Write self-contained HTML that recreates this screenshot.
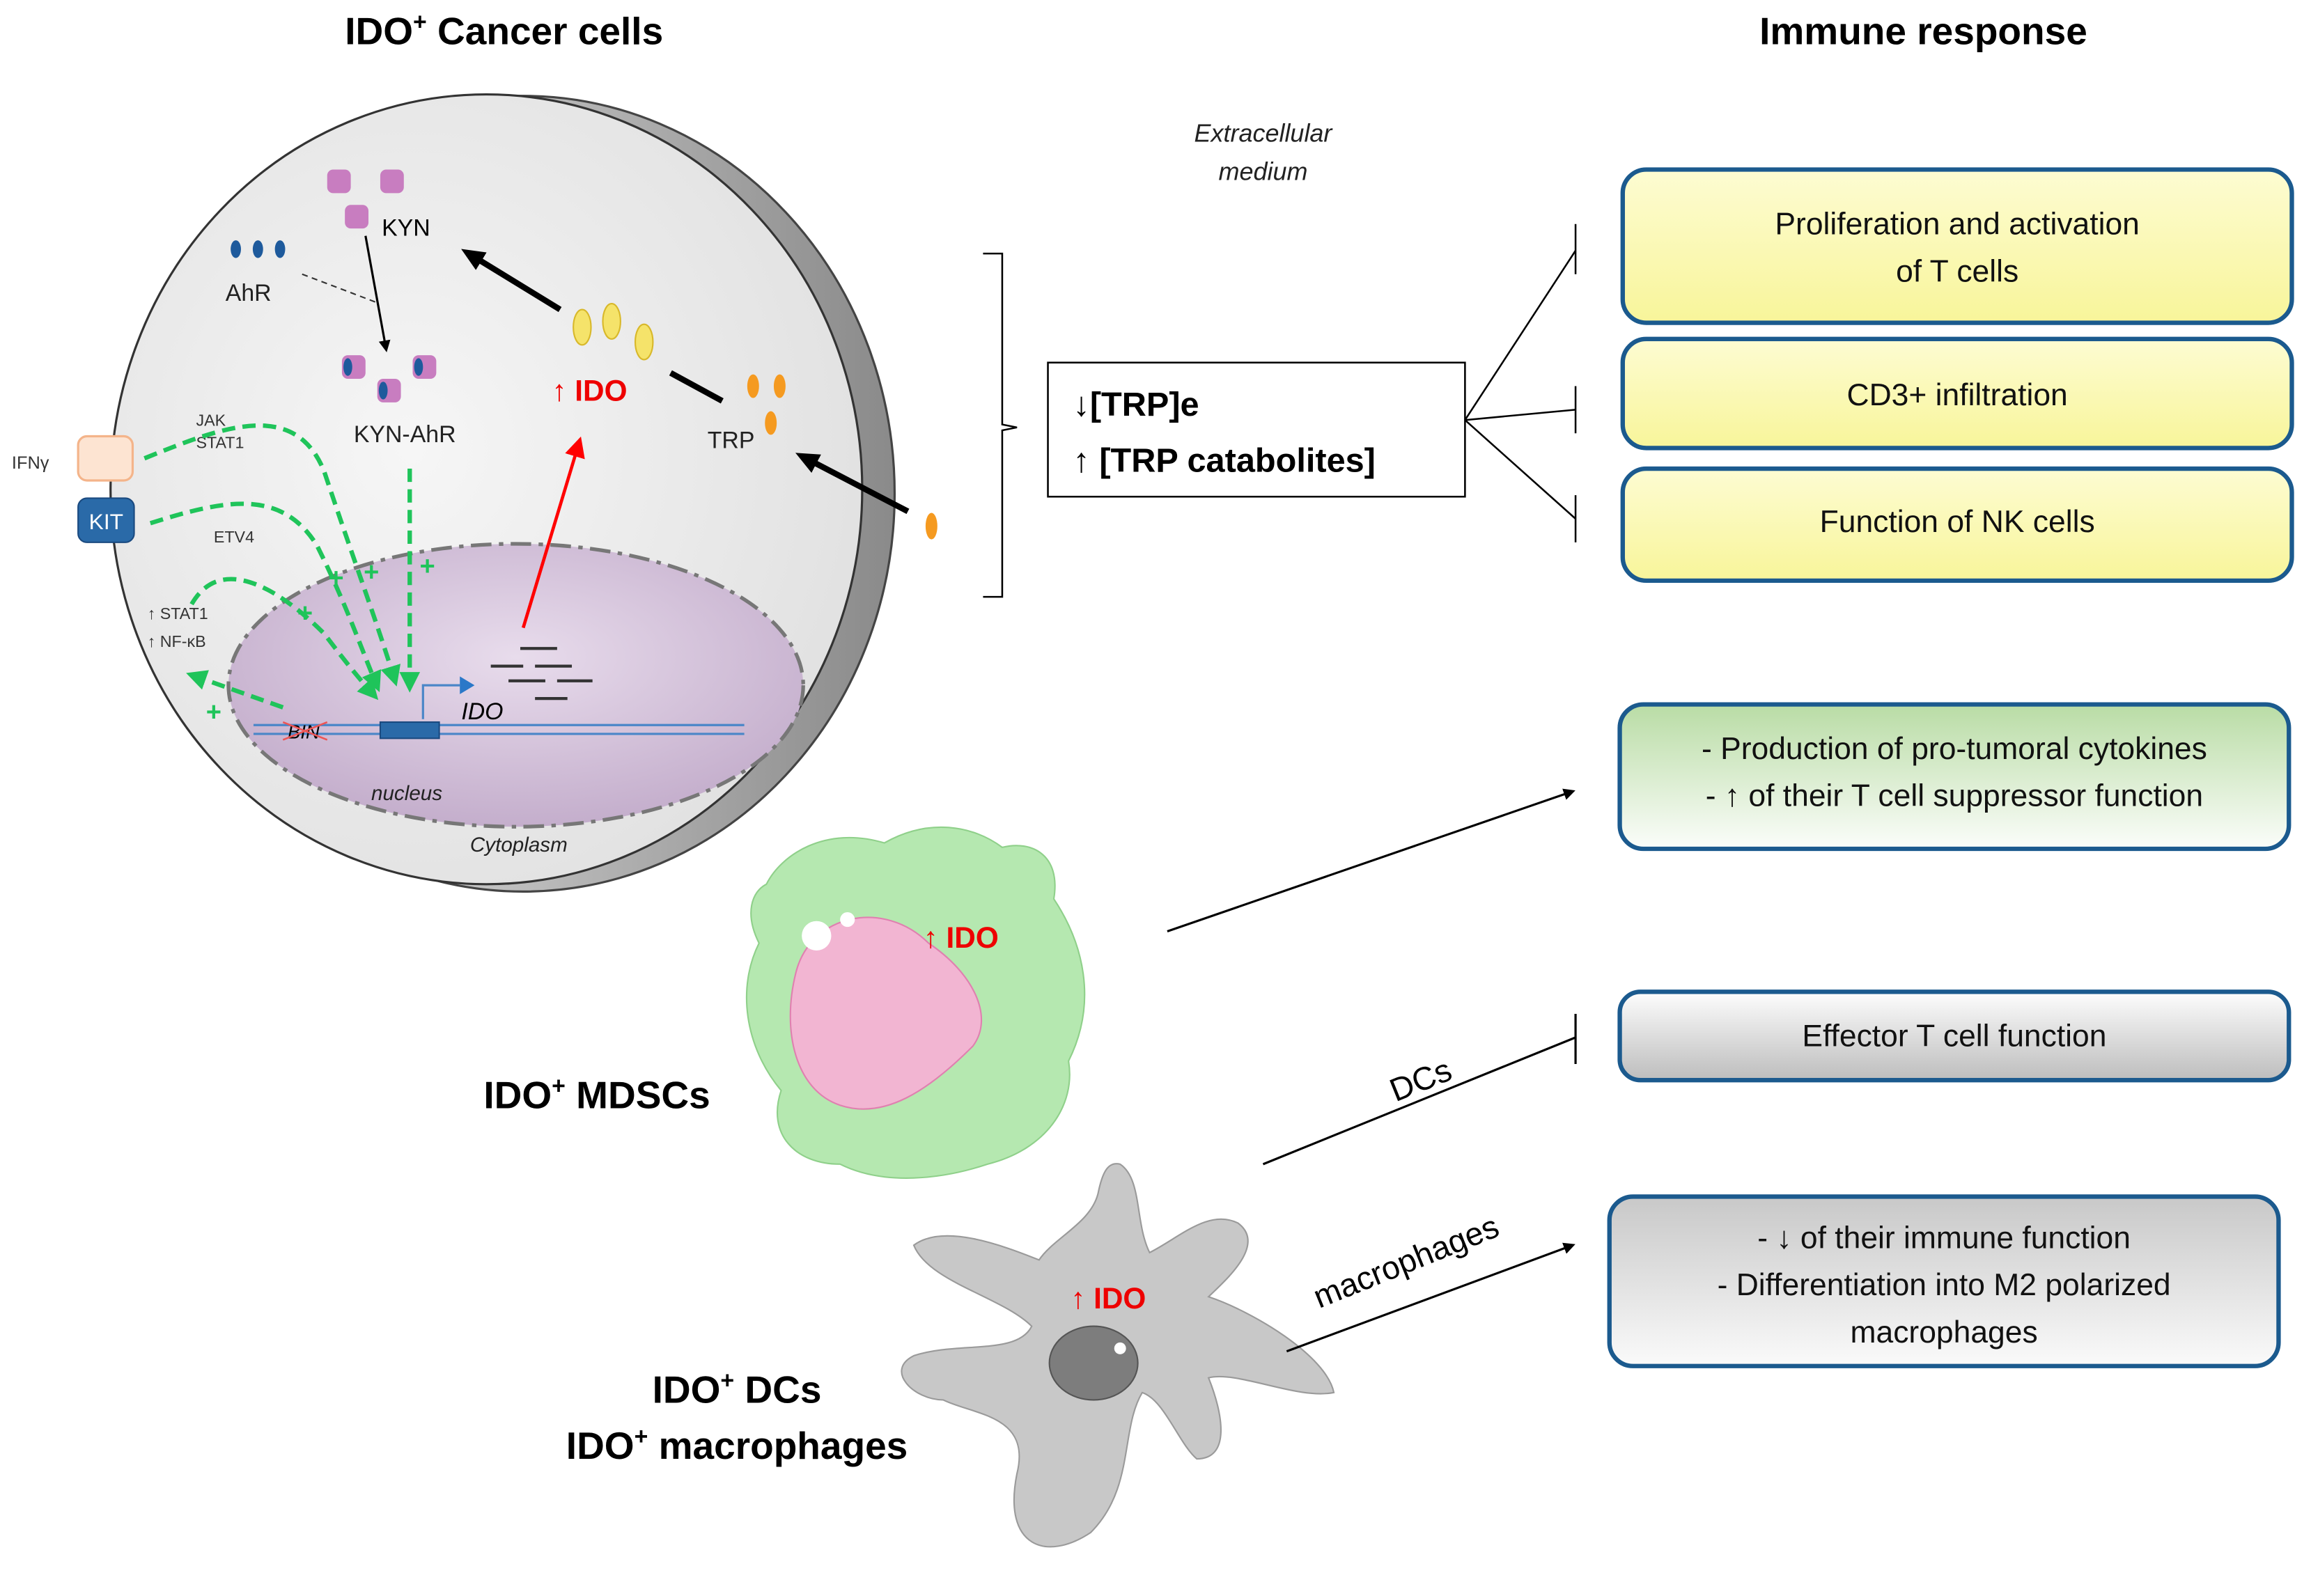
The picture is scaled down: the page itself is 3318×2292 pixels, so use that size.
<!DOCTYPE html>
<html><head><meta charset="utf-8"><style>
html,body{margin:0;padding:0;background:#fff}
svg{display:block}
text{font-family:"Liberation Sans",sans-serif}
</style></head><body>
<svg width="3318" height="2292" viewBox="0 0 1568 1083" xmlns="http://www.w3.org/2000/svg">
<defs>
<marker id="ab" markerWidth="8" markerHeight="8" refX="6" refY="4" orient="auto" markerUnits="userSpaceOnUse"><path d="M0,0L8,4L0,8z" fill="#000"/></marker>
<marker id="abB" markerWidth="16" markerHeight="14" refX="10" refY="7" orient="auto" markerUnits="userSpaceOnUse"><path d="M0,0L16,7L0,14z" fill="#000"/></marker>
<marker id="ag" markerWidth="14" markerHeight="14" refX="10" refY="7" orient="auto" markerUnits="userSpaceOnUse"><path d="M0,0L14,7L0,14z" fill="#1fc45a"/></marker>
<marker id="ar" markerWidth="14" markerHeight="14" refX="10" refY="7" orient="auto" markerUnits="userSpaceOnUse"><path d="M0,0L14,7L0,14z" fill="#f00"/></marker>
<radialGradient id="cell" cx="0.4" cy="0.45" r="0.6"><stop offset="0" stop-color="#f6f6f6"/><stop offset="1" stop-color="#e2e2e2"/></radialGradient>
<linearGradient id="rim" x1="0" x2="1"><stop offset="0" stop-color="#eee"/><stop offset="1" stop-color="#8a8a8a"/></linearGradient>
<radialGradient id="nuc" cx="0.5" cy="0.4" r="0.6"><stop offset="0" stop-color="#e8dcec"/><stop offset="1" stop-color="#c4aecc"/></radialGradient>
<linearGradient id="yel" x1="0" y1="0" x2="0" y2="1"><stop offset="0" stop-color="#fdfcd2"/><stop offset="1" stop-color="#f8f59a"/></linearGradient>
<linearGradient id="grn" x1="0" y1="0" x2="0" y2="1"><stop offset="0" stop-color="#b9dca5"/><stop offset="1" stop-color="#fbfdfa"/></linearGradient>
<linearGradient id="gry" x1="0" y1="0" x2="0" y2="1"><stop offset="0" stop-color="#fdfdfd"/><stop offset="1" stop-color="#bdbdbd"/></linearGradient>
<linearGradient id="gry2" x1="0" y1="0" x2="0" y2="1"><stop offset="0" stop-color="#c8c8c8"/><stop offset="1" stop-color="#fafafa"/></linearGradient>
</defs>

<text x="342" y="30" font-size="26" font-weight="bold" text-anchor="middle">IDO<tspan font-size="16" dy="-10">+</tspan><tspan dy="10"> Cancer cells</tspan></text>
<text x="1305" y="30" font-size="26" font-weight="bold" text-anchor="middle">Immune response</text>
<text x="857" y="96" font-size="17" font-style="italic" text-anchor="middle" fill="#222">Extracellular</text>
<text x="857" y="122" font-size="17" font-style="italic" text-anchor="middle" fill="#222">medium</text>

<!-- cell -->
<ellipse cx="355" cy="335" rx="252" ry="270" fill="url(#rim)" stroke="#444" stroke-width="1.5"/>
<ellipse cx="330" cy="332" rx="255" ry="268" fill="url(#cell)" stroke="#333" stroke-width="1.5"/>
<ellipse cx="350" cy="465" rx="195" ry="96" fill="url(#nuc)" stroke="#777" stroke-width="2.5" stroke-dasharray="14,5,3,5"/>
<text x="276" y="543" font-size="14" font-style="italic" text-anchor="middle" fill="#222">nucleus</text>
<text x="352" y="578" font-size="14" font-style="italic" text-anchor="middle" fill="#222">Cytoplasm</text>
<!-- DNA -->
<line x1="172" y1="492" x2="505" y2="492" stroke="#4a86c8" stroke-width="1.5"/>
<line x1="172" y1="498" x2="505" y2="498" stroke="#4a86c8" stroke-width="1.5"/>
<rect x="258" y="490" width="40" height="11" fill="#2a6aa8" stroke="#1a4a80"/>
<text x="206" y="501" font-size="13" font-style="italic" text-anchor="middle">BIN</text>
<path d="M192,490L222,502M192,502L222,490" stroke="#e55" stroke-width="1.2"/>
<path d="M287,488V465H312" fill="none" stroke="#4a86c8" stroke-width="1.5"/><path d="M312,459L322,465L312,471z" fill="#2a78c8"/>
<text x="313" y="488" font-size="16" font-style="italic">IDO</text>
<g stroke="#333" stroke-width="2"><line x1="353" y1="440" x2="378" y2="440"/><line x1="333" y1="452" x2="355" y2="452"/><line x1="363" y1="452" x2="388" y2="452"/><line x1="345" y1="462" x2="370" y2="462"/><line x1="378" y1="462" x2="402" y2="462"/><line x1="363" y1="474" x2="385" y2="474"/></g>
<line x1="355" y1="426" x2="393" y2="300" stroke="#f00" stroke-width="2.2" marker-end="url(#ar)"/>
<text x="400" y="272" font-size="20" font-weight="bold" fill="#e00" text-anchor="middle">↑ IDO</text>
<!-- receptors -->
<text x="8" y="318" font-size="12" fill="#333">IFNγ</text>
<rect x="53" y="296" width="37" height="30" rx="6" fill="#fde4d2" stroke="#f4b48a" stroke-width="1.5"/>
<rect x="53" y="338" width="38" height="30" rx="6" fill="#2a6aa8" stroke="#1a4a80"/>
<text x="72" y="359" font-size="15" fill="#fff" text-anchor="middle">KIT</text>
<text x="133" y="289" font-size="11" fill="#333">JAK</text>
<text x="133" y="304" font-size="11" fill="#333">STAT1</text>
<text x="145" y="368" font-size="11" fill="#333">ETV4</text>
<text x="100" y="420" font-size="11" fill="#333">↑ STAT1</text>
<text x="100" y="439" font-size="11" fill="#333">↑ NF-κB</text>
<g fill="none" stroke="#1fc45a" stroke-width="3" stroke-dasharray="9,5">
<path d="M98,311C150,290 200,270 220,320C240,380 255,420 268,462" marker-end="url(#ag)"/>
<path d="M102,355C150,340 190,330 215,370C235,410 245,440 256,466" marker-end="url(#ag)"/>
<path d="M130,410C150,375 190,400 220,430C235,450 245,462 254,472" marker-end="url(#ag)"/>
<path d="M278,318V466" marker-end="url(#ag)"/>
<path d="M192,480L130,458" marker-end="url(#ag)"/>
</g>
<g font-size="18" font-weight="bold" fill="#1fc45a" text-anchor="middle"><text x="228" y="398">+</text><text x="252" y="394">+</text><text x="290" y="390">+</text><text x="207" y="422">+</text><text x="145" y="489">+</text></g>
<!-- molecules -->
<g fill="#c87dc0"><rect x="222" y="115" width="16" height="16" rx="4"/><rect x="258" y="115" width="16" height="16" rx="4"/><rect x="234" y="139" width="16" height="16" rx="4"/></g>
<text x="259" y="160" font-size="16">KYN</text>
<g fill="#1e5a9c"><ellipse cx="160" cy="169" rx="3.5" ry="6"/><ellipse cx="175" cy="169" rx="3.5" ry="6"/><ellipse cx="190" cy="169" rx="3.5" ry="6"/></g>
<text x="153" y="204" font-size="16" fill="#222">AhR</text>
<line x1="205" y1="186" x2="255" y2="205" stroke="#333" stroke-dasharray="4,3"/>
<line x1="248" y1="160" x2="262" y2="237" stroke="#000" stroke-width="1.5" marker-end="url(#ab)"/>
<g fill="#c87dc0"><rect x="232" y="241" width="16" height="16" rx="4"/><rect x="280" y="241" width="16" height="16" rx="4"/><rect x="256" y="257" width="16" height="16" rx="4"/></g>
<g fill="#1e5a9c"><ellipse cx="236" cy="249" rx="3" ry="6"/><ellipse cx="284" cy="249" rx="3" ry="6"/><ellipse cx="260" cy="265" rx="3" ry="6"/></g>
<text x="240" y="300" font-size="16" fill="#222">KYN-AhR</text>
<g fill="#f5e36a" stroke="#d8b82a"><ellipse cx="395" cy="222" rx="6" ry="12"/><ellipse cx="415" cy="218" rx="6" ry="12"/><ellipse cx="437" cy="232" rx="6" ry="12"/></g>
<line x1="380" y1="210" x2="318" y2="172" stroke="#000" stroke-width="4" marker-end="url(#abB)"/>
<line x1="490" y1="272" x2="455" y2="253" stroke="#000" stroke-width="4"/>
<g fill="#f59a20"><ellipse cx="511" cy="262" rx="4" ry="8"/><ellipse cx="529" cy="262" rx="4" ry="8"/><ellipse cx="523" cy="287" rx="4" ry="8"/></g>
<text x="480" y="304" font-size="16" fill="#222">TRP</text>
<line x1="616" y1="347" x2="545" y2="310" stroke="#000" stroke-width="4" marker-end="url(#abB)"/>
<ellipse cx="632" cy="357" rx="4" ry="9" fill="#f59a20"/>

<!-- bracket -->
<path d="M667,172H680V288L690,290L680,292V405H667" fill="none" stroke="#000" stroke-width="1.2"/>
<rect x="711" y="246" width="283" height="91" fill="#fff" stroke="#000" stroke-width="1.2"/>
<text x="728" y="282" font-size="23" font-weight="bold">↓[TRP]e</text>
<text x="728" y="320" font-size="23" font-weight="bold">↑ [TRP catabolites]</text>
<g stroke="#000" stroke-width="1.2"><line x1="994" y1="285" x2="1069" y2="170"/><line x1="994" y1="285" x2="1069" y2="278"/><line x1="994" y1="285" x2="1069" y2="352"/>
<line x1="1069" y1="152" x2="1069" y2="186"/><line x1="1069" y1="262" x2="1069" y2="294"/><line x1="1069" y1="336" x2="1069" y2="368"/></g>

<!-- boxes -->
<g stroke="#1b5a8e" stroke-width="3">
<rect x="1101" y="115" width="454" height="104" rx="16" fill="url(#yel)"/>
<rect x="1101" y="230" width="454" height="74" rx="16" fill="url(#yel)"/>
<rect x="1101" y="318" width="454" height="76" rx="16" fill="url(#yel)"/>
<rect x="1099" y="478" width="454" height="98" rx="16" fill="url(#grn)"/>
<rect x="1099" y="673" width="454" height="60" rx="14" fill="url(#gry)"/>
<rect x="1092" y="812" width="454" height="115" rx="16" fill="url(#gry2)"/>
</g>
<g font-size="21" text-anchor="middle" fill="#111">
<text x="1328" y="159">Proliferation and activation</text><text x="1328" y="191">of T cells</text>
<text x="1328" y="275">CD3+ infiltration</text>
<text x="1328" y="361">Function of NK cells</text>
<text x="1326" y="515">-   Production of pro-tumoral  cytokines</text><text x="1326" y="547">- ↑ of their T cell suppressor function</text>
<text x="1326" y="710">Effector T cell function</text>
<text x="1319" y="847">- ↓ of their immune function</text><text x="1319" y="879">- Differentiation into M2 polarized</text><text x="1319" y="911">macrophages</text>
</g>

<!-- MDSC -->
<path d="M520,600C530,580 560,560 600,572C630,555 660,560 680,575C700,570 720,580 715,610C735,640 745,680 725,720C730,750 710,780 670,790C640,800 600,805 570,790C540,790 520,770 530,740C505,710 500,670 515,640C505,620 510,605 520,600z" fill="#b5e8b0" stroke="#8fd08a"/>
<path d="M540,660C550,620 600,610 630,640C660,660 675,690 660,710C630,740 600,760 570,750C540,740 530,700 540,660z" fill="#f2b5d2" stroke="#e080b0"/>
<circle cx="554" cy="635" r="10" fill="#fff"/><circle cx="575" cy="624" r="5" fill="#fff"/>
<text x="652" y="643" font-size="20" font-weight="bold" fill="#e00" text-anchor="middle">↑ IDO</text>
<text x="405" y="752" font-size="26" font-weight="bold" text-anchor="middle">IDO<tspan font-size="16" dy="-10">+</tspan><tspan dy="10"> MDSCs</tspan></text>
<line x1="792" y1="632" x2="1067" y2="537" stroke="#000" stroke-width="1.5" marker-end="url(#ab)"/>

<!-- DC -->
<path d="M760,790C775,800 770,830 780,850C800,840 820,820 840,830C860,845 830,870 820,880C850,890 900,920 905,945C880,950 840,930 820,935C830,960 835,990 812,990C800,980 790,950 775,945C760,970 770,1010 740,1040C710,1060 680,1050 690,1000C700,960 660,960 640,950C620,950 600,930 620,920C650,910 690,920 700,900C680,880 630,870 620,845C640,830 680,845 705,855C715,840 740,830 745,810C748,795 752,788 760,790z" fill="#c8c8c8" stroke="#9a9a9a"/>
<ellipse cx="742" cy="925" rx="30" ry="25" fill="#7d7d7d" stroke="#555"/>
<circle cx="760" cy="915" r="4" fill="#fff"/>
<text x="752" y="888" font-size="20" font-weight="bold" fill="#e00" text-anchor="middle">↑ IDO</text>
<text x="500" y="952" font-size="26" font-weight="bold" text-anchor="middle">IDO<tspan font-size="16" dy="-10">+</tspan><tspan dy="10"> DCs</tspan></text>
<text x="500" y="990" font-size="26" font-weight="bold" text-anchor="middle">IDO<tspan font-size="16" dy="-10">+</tspan><tspan dy="10"> macrophages</tspan></text>
<line x1="857" y1="790" x2="1069" y2="704" stroke="#000" stroke-width="1.5"/>
<line x1="1069" y1="688" x2="1069" y2="722" stroke="#000" stroke-width="1.5"/>
<text x="943" y="742" font-size="22" transform="rotate(-22 960 735)">DCs</text>
<line x1="873" y1="917" x2="1067" y2="845" stroke="#000" stroke-width="1.5" marker-end="url(#ab)"/>
<text x="895" y="888" font-size="22" transform="rotate(-22 895 888)">macrophages</text>
</svg>
</body></html>
